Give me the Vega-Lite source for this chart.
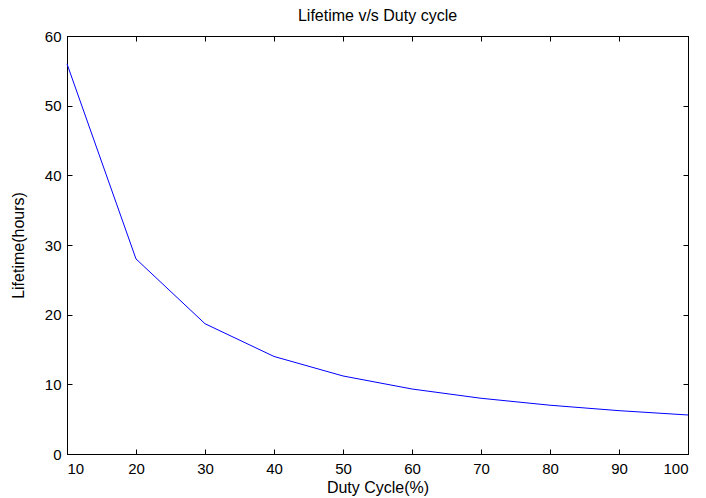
{
  "$schema": "https://vega.github.io/schema/vega-lite/v6.json",
  "autosize": "none",
  "width": 621,
  "height": 418,
  "padding": {"left": 67, "top": 36, "right": 18, "bottom": 44},
  "background": "white",
  "title": {"text": "Lifetime v/s Duty cycle", "font": "Liberation Sans", "fontSize": 16, "fontWeight": "normal", "color": "black", "offset": 5},
  "config": {
    "view": {"stroke": "black", "strokeWidth": 1},
    "axis": {"grid": false, "domainColor": "black", "tickColor": "black", "labelColor": "black", "titleColor": "black", "labelFont": "Liberation Sans", "titleFont": "Liberation Sans", "labelFontSize": 15, "titleFontSize": 16, "titleFontWeight": "normal", "tickSize": -5}
  },
  "data": {"values": [
    {"duty": 10, "life": 56},
    {"duty": 20, "life": 28},
    {"duty": 30, "life": 18.7},
    {"duty": 40, "life": 14},
    {"duty": 50, "life": 11.2},
    {"duty": 60, "life": 9.33},
    {"duty": 70, "life": 8},
    {"duty": 80, "life": 7},
    {"duty": 90, "life": 6.22},
    {"duty": 100, "life": 5.6}
  ]},
  "layer": [
    {
      "mark": {"type": "line", "color": "#0000ff", "strokeWidth": 1},
      "encoding": {
        "x": {"field": "duty", "type": "quantitative", "scale": {"domain": [10, 100], "nice": false}, "axis": {"title": "Duty Cycle(%)", "values": [10,20,30,40,50,60,70,80,90,100], "titleY": 25, "labelPadding": 12}},
        "y": {"field": "life", "type": "quantitative", "scale": {"domain": [0, 60], "nice": false}, "axis": {"title": "Lifetime(hours)", "values": [0,10,20,30,40,50,60], "titleX": -41, "labelPadding": 11}}
      }
    },
    {
      "mark": {"type": "line", "opacity": 0},
      "encoding": {
        "x": {"field": "duty", "type": "quantitative", "scale": {"domain": [10, 100], "nice": false}, "axis": {"orient": "top", "title": null, "labels": false, "values": [10,20,30,40,50,60,70,80,90,100]}},
        "y": {"field": "life", "type": "quantitative", "scale": {"domain": [0, 60], "nice": false}, "axis": {"orient": "right", "title": null, "labels": false, "values": [0,10,20,30,40,50,60]}}
      }
    }
  ],
  "resolve": {"axis": {"x": "independent", "y": "independent"}}
}
